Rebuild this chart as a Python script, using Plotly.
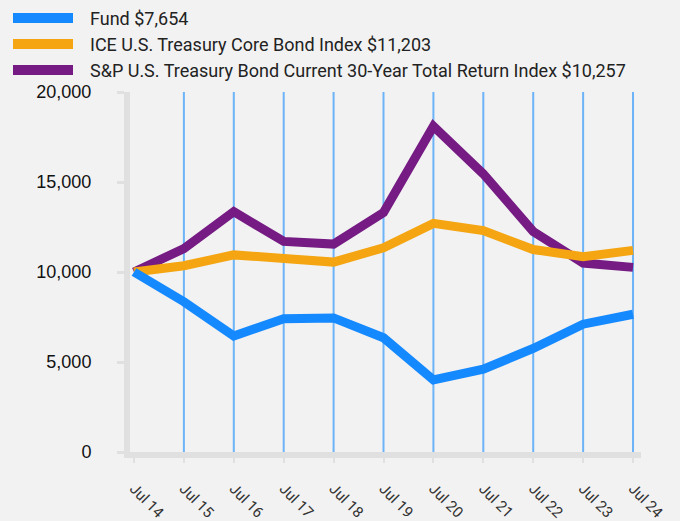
import plotly.graph_objects as go

categories = ["Jul 14", "Jul 15", "Jul 16", "Jul 17", "Jul 18", "Jul 19",
              "Jul 20", "Jul 21", "Jul 22", "Jul 23", "Jul 24"]
fund = [10000, 8350, 6450, 7400, 7450, 6350, 4000, 4600, 5750, 7100, 7654]
ice = [10000, 10350, 10950, 10700, 10550, 11350, 12700, 12300, 11250, 10850, 11203]
sp = [10000, 11300, 13350, 11700, 11550, 13300, 18100, 15450, 12250, 10500, 10257]
names = ["Fund $7,654", "ICE U.S. Treasury Core Bond Index $11,203",
         "S&P U.S. Treasury Bond Current 30-Year Total Return Index $10,257"]
colors = ["#1589FF", "#F4A511", "#751B83"]
ytickvals = [0, 5000, 10000, 15000, 20000]

idx = list(range(len(categories)))
series = [fund, ice, sp]

fig = go.Figure()
for k in [2, 1, 0]:
    fig.add_trace(go.Scatter(x=idx, y=series[k], mode="lines", name=names[k],
                             line=dict(color=colors[k], width=9),
                             showlegend=False, hoverinfo="skip"))

shapes = []
# vertical grid lines (not at first category)
for i in idx[1:]:
    shapes.append(dict(type="line", xref="x", yref="paper", x0=i, x1=i, y0=0, y1=1,
                       line=dict(color="#6DB3F7", width=2), layer="below"))

annotations = []
# manual legend
leg_y = [18, 44, 70]
T, B = 92, 69
H = 521
ph = H - T - B
for k in range(3):
    yp = 1 + (T - leg_y[k]) / ph
    y0 = 1 + (T - leg_y[k] - 5) / ph
    y1 = 1 + (T - leg_y[k] + 5) / ph
    shapes.append(dict(type="rect", xref="paper", yref="paper",
                       x0=(13 - 130) / 511, x1=(73 - 130) / 511, y0=y0, y1=y1,
                       fillcolor=colors[k], line=dict(width=0)))
    annotations.append(dict(xref="paper", yref="paper", x=(88 - 130) / 511, y=yp,
                            text=names[k], showarrow=False, xanchor="left", yanchor="middle",
                            font=dict(family="Roboto", size=18, color="#222")))

fig.update_layout(
    width=680, height=521,
    margin=dict(l=130, r=39, t=T, b=B),
    paper_bgcolor="#F2F2F2", plot_bgcolor="#F2F2F2",
    shapes=shapes, annotations=annotations,
    showlegend=False,
    xaxis=dict(range=[-0.08, 10.16], tickmode="array", tickvals=idx, ticktext=categories,
               tickangle=45, showgrid=False, zeroline=False, automargin=False,
               showline=True, linecolor="#E0E0E0", linewidth=6,
               ticks="outside", ticklen=5, tickwidth=2, tickcolor="#E0E0E0",
               ticklabelstandoff=11,
               tickfont=dict(family="Roboto", size=15, color="#333")),
    yaxis=dict(range=[0, 20000], tickmode="array", tickvals=ytickvals,
               tickformat=",d", showgrid=False, zeroline=False, automargin=False,
               showline=True, linecolor="#E0E0E0", linewidth=6,
               ticks="outside", ticklen=7, tickwidth=3, tickcolor="#E0E0E0",
               ticklabelstandoff=22,
               tickfont=dict(family="Liberation Sans", size=18, color="#111")),
)

fig.write_html("out.html")
